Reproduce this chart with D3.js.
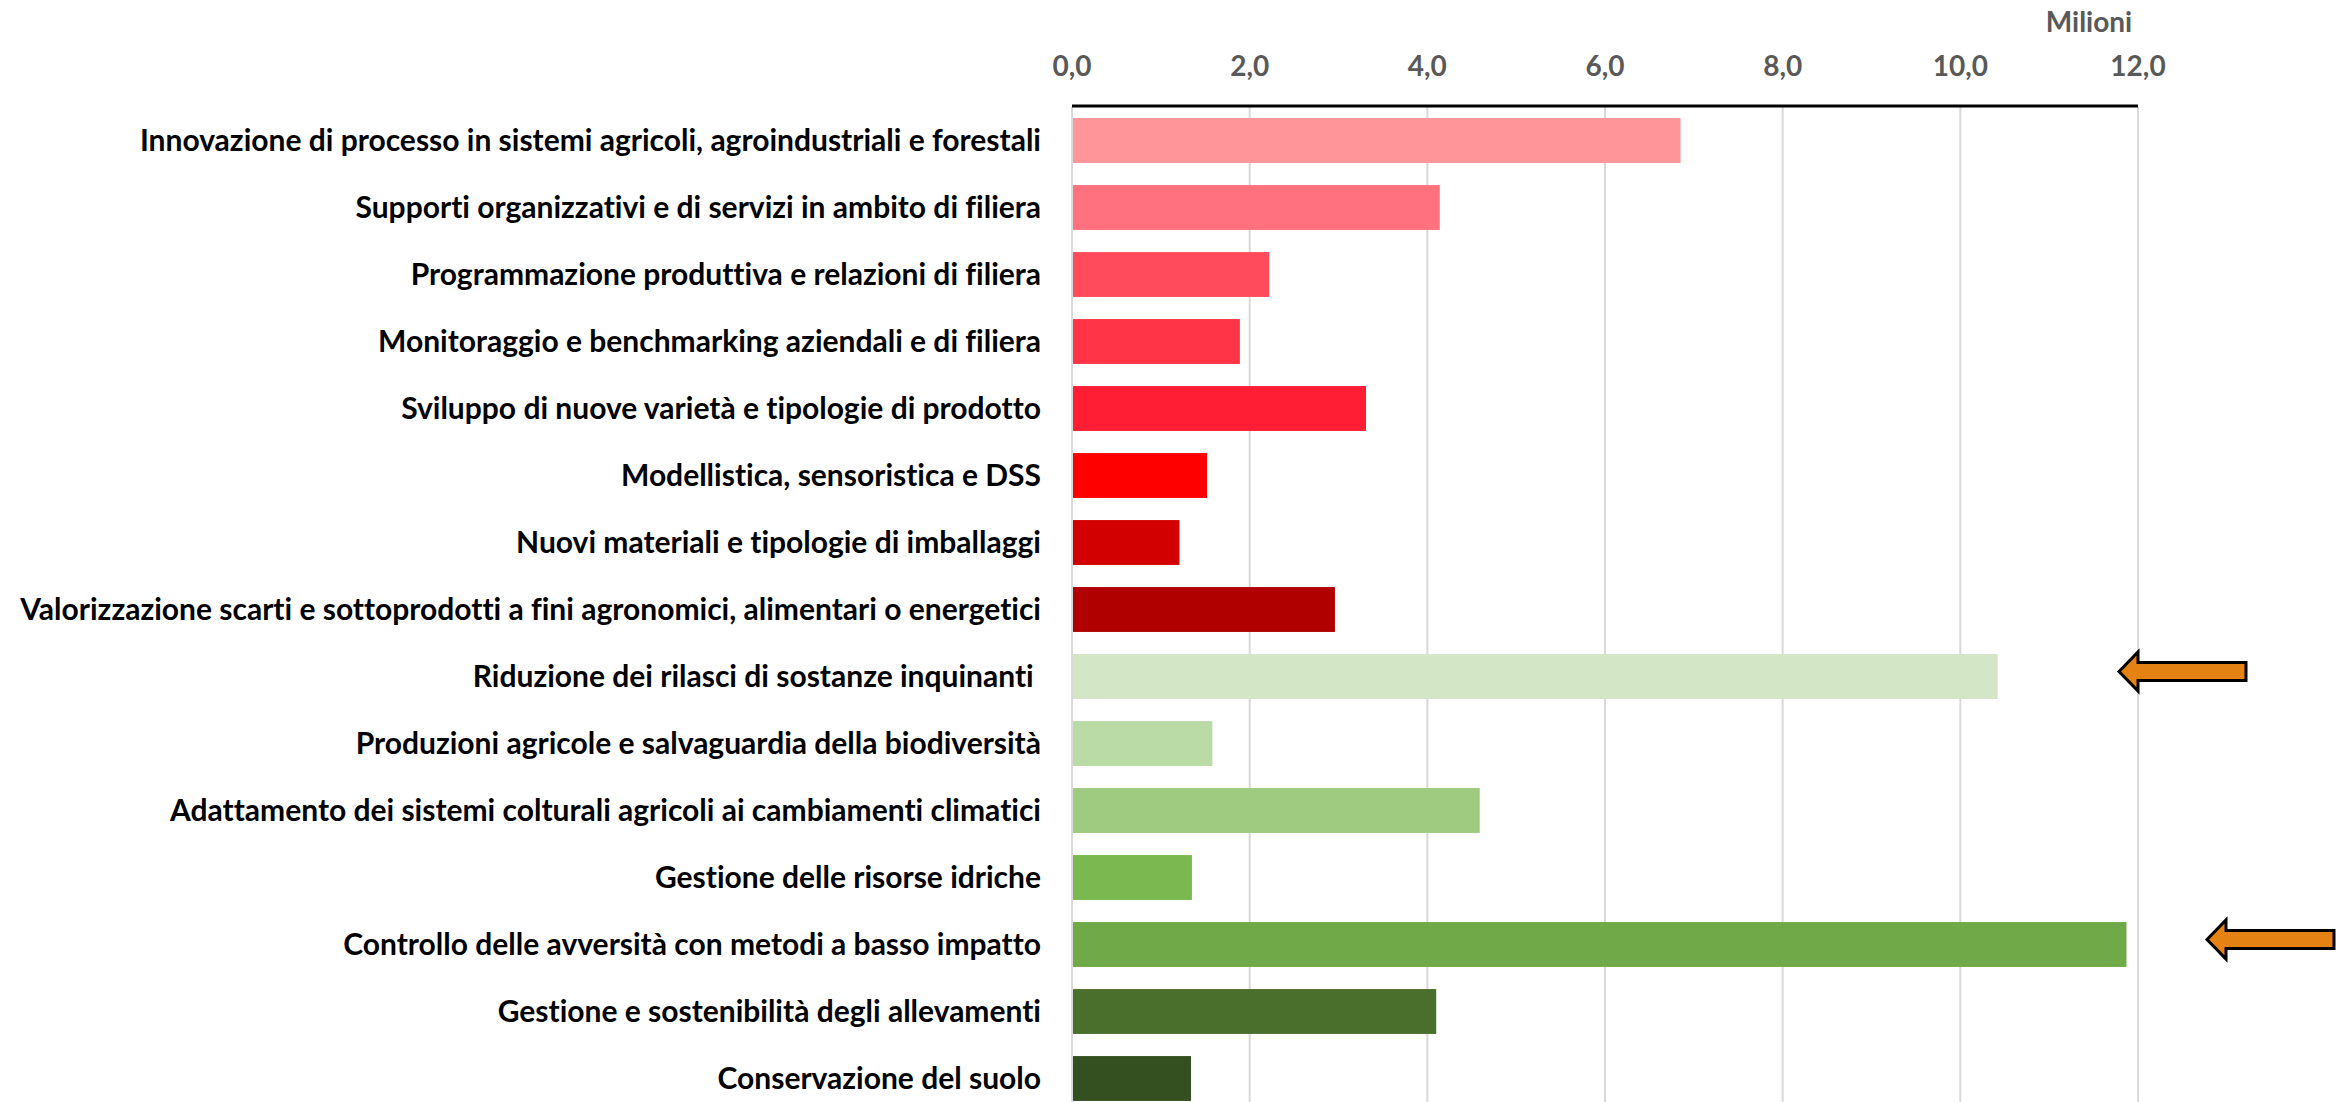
<!DOCTYPE html>
<html>
<head>
<meta charset="utf-8">
<script src="https://cdn.jsdelivr.net/npm/d3@7"></script>
<style>
  body { margin: 0; background: #fff; }
  svg { display: block; font-family: Lato, 'Open Sans', sans-serif; font-weight: bold; font-variant-ligatures: none; }
</style>
</head>
<body>
<div id="chart"></div>
<script>
// temi di ricerca (ordine come nel grafico)
const categories = [
  'Innovazione di processo in sistemi agricoli, agroindustriali e forestali',
  'Supporti organizzativi e di servizi in ambito di filiera',
  'Programmazione produttiva e relazioni di filiera',
  'Monitoraggio e benchmarking aziendali e di filiera',
  'Sviluppo di nuove varietà e tipologie di prodotto',
  'Modellistica, sensoristica e DSS',
  'Nuovi materiali e tipologie di imballaggi',
  'Valorizzazione scarti e sottoprodotti a fini agronomici, alimentari o energetici',
  'Riduzione dei rilasci di sostanze inquinanti ',
  'Produzioni agricole e salvaguardia della biodiversità',
  'Adattamento dei sistemi colturali agricoli ai cambiamenti climatici',
  'Gestione delle risorse idriche',
  'Controllo delle avversità con metodi a basso impatto',
  'Gestione e sostenibilità degli allevamenti',
  'Conservazione del suolo'
];

// milioni di euro
const values = [6.85, 4.14, 2.22, 1.89, 3.31, 1.52, 1.21, 2.96, 10.42, 1.58, 4.59, 1.35, 11.87, 4.10, 1.34];

const colors = ['#FF9499', '#FF717F', '#FF4B5C', '#FF3447', '#FF1E34', '#FF0000', '#D20000', '#B00000',
                '#D3E6C6', '#BADBA5', '#9ECB7F', '#7BB84F', '#6FA948', '#4A6E2C', '#344F20'];

const ticks = [0, 2, 4, 6, 8, 10, 12];
const unitLabel = 'Milioni';

// frecce arancioni
const highlighted = [8, 12];

const W = 2346, H = 1102;

const svg = d3.select('#chart').append('svg')
    .attr('width', W)
    .attr('height', H);

const x = d3.scaleLinear().domain([0, 12]).range([1072, 2138]);
const y = d3.scaleBand().domain(categories).range([107, 1112])
    .paddingInner(0.33).paddingOuter(0.165);

const it = d3.formatLocale({decimal: ',', thousands: '.', grouping: [3], currency: ['€', '']});
const fmt = it.format('.1f');

// griglia
svg.append('g')
  .selectAll('line')
  .data(ticks)
  .join('line')
    .attr('x1', d => x(d))
    .attr('x2', d => x(d))
    .attr('y1', 107)
    .attr('y2', H)
    .attr('stroke', '#D9D9D9')
    .attr('stroke-width', 2);

// etichette asse
svg.append('g')
  .selectAll('text')
  .data(ticks)
  .join('text')
    .text(d => fmt(d))
    .attr('x', d => x(d))
    .attr('y', 76)
    .attr('text-anchor', 'middle')
    .attr('fill', '#595959')
    .attr('font-size', 28);

svg.append('text')
    .text(unitLabel)
    .attr('x', 2089)
    .attr('y', 32)
    .attr('text-anchor', 'middle')
    .attr('fill', '#595959')
    .attr('font-size', 28);

// barre
svg.append('g')
  .selectAll('rect')
  .data(values)
  .join('rect')
    .attr('x', x(0) + 1)
    .attr('y', (d, i) => y(categories[i]))
    .attr('width', d => x(d) - x(0) - 1)
    .attr('height', y.bandwidth())
    .attr('fill', (d, i) => colors[i]);

// asse superiore
svg.append('line')
    .attr('x1', x(0)).attr('x2', x(12))
    .attr('y1', 106).attr('y2', 106)
    .attr('stroke', '#000')
    .attr('stroke-width', 3);

// categorie
svg.append('g')
  .selectAll('text')
  .data(categories)
  .join('text')
    .text(d => d)
    .attr('x', x(0) - 31)
    .attr('y', d => y(d) + y.bandwidth() / 2)
    .attr('dy', '0.35em')
    .attr('text-anchor', 'end')
    .attr('fill', '#000')
    .attr('font-size', 30)
    .style('white-space', 'pre');

// frecce
const arrowShape = 'M0,0 L19,-19.5 L19,-9 L127,-9 L127,9 L19,9 L19,19.5 Z';
const arrowOffsets = [-19, 69];
svg.append('g')
  .selectAll('path')
  .data(highlighted)
  .join('path')
    .attr('d', arrowShape)
    .attr('transform', (d, i) => `translate(${x(12) + arrowOffsets[i]},${y(categories[d]) + y.bandwidth() / 2 - 5})`)
    .attr('fill', '#E58214')
    .attr('stroke', '#000')
    .attr('stroke-width', 3);
</script>
</body>
</html>
